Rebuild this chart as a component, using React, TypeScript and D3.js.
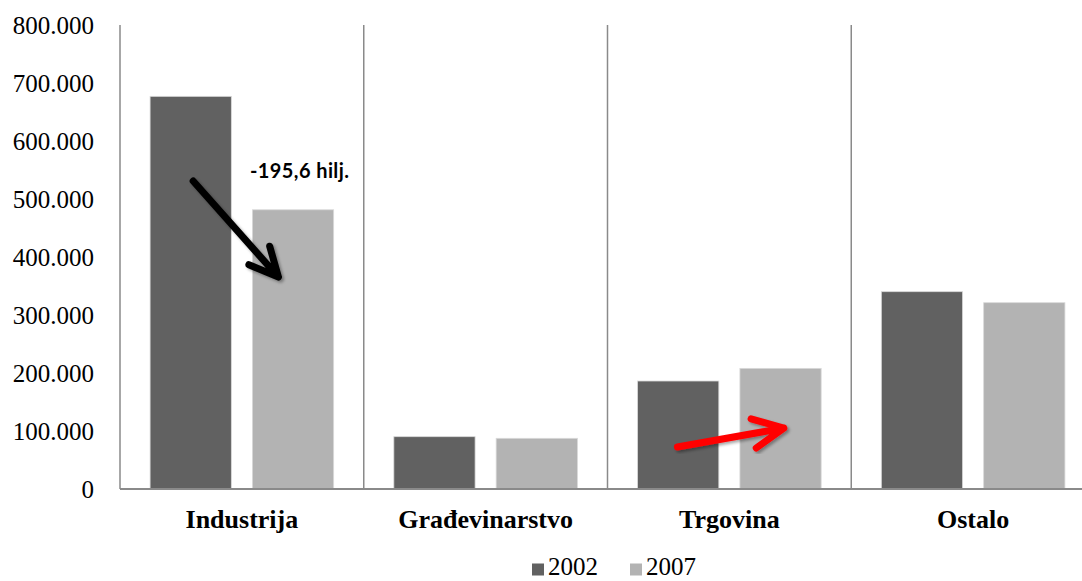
import React from "react";
import * as d3 from "d3";

const categories = ["Industrija", "Građevinarstvo", "Trgovina", "Ostalo"];
const seriesNames = ["2002", "2007"];
const values2002 = [677000, 90200, 186200, 340200];
const values2007 = [481400, 87400, 208000, 321200];
const yTicks = [0, 100000, 200000, 300000, 400000, 500000, 600000, 700000, 800000];
const annotationText = "-195,6 hilj.";

const W = 1082;
const H = 581;
const left = 120;
const right = 1095;
const top = 25;
const bottom = 489;
const colors = ["#616161", "#b3b3b3"];

const fmt = (v: number) => (v === 0 ? "0" : d3.format(",")(v).replace(/,/g, "."));

export default function App() {
  const x = d3.scaleBand<string>().domain(categories).range([left, right]).paddingInner(0).paddingOuter(0);
  const x1 = d3.scaleBand<string>().domain(seriesNames).range([0, x.bandwidth()]).paddingInner(0.206).paddingOuter(0.294);
  const y = d3.scaleLinear().domain([0, 800000]).range([bottom, top]);
  const series = [values2002, values2007];

  const bw = x1.bandwidth();
  const cx0 = (i: number, s: string) => (x(categories[i]) as number) + (x1(s) as number);

  // black arrow (Industrija)
  const bStart: [number, number] = [cx0(0, "2002") + bw * 0.53, y(531000)];
  const bEnd: [number, number] = [cx0(0, "2007") + bw * 0.32, y(365500)];
  // red arrow (Trgovina)
  const rStart: [number, number] = [cx0(2, "2002") + bw * 0.49, y(72400)];
  const rEnd: [number, number] = [cx0(2, "2007") + bw * 0.54, y(105000)];

  const arrowPath = (s: [number, number], e: [number, number], head: number) => {
    const ang = Math.atan2(e[1] - s[1], e[0] - s[0]);
    const a1 = ang + Math.PI - 0.45;
    const a2 = ang + Math.PI + 0.45;
    const p1 = [e[0] + head * Math.cos(a1), e[1] + head * Math.sin(a1)];
    const p2 = [e[0] + head * Math.cos(a2), e[1] + head * Math.sin(a2)];
    return `M${s[0]},${s[1]}L${e[0]},${e[1]}M${p1[0]},${p1[1]}L${e[0]},${e[1]}L${p2[0]},${p2[1]}`;
  };

  return (
    <svg width={W} height={H} style={{ position: "absolute", left: 0, top: 0 }}>
      <defs>
        <filter id="sh" x="-20%" y="-20%" width="140%" height="140%">
          <feDropShadow dx="2" dy="2" stdDeviation="1.5" floodColor="#000" floodOpacity="0.35" />
        </filter>
      </defs>
      <rect width={W} height={H} fill="#fff" />
      {categories.map((c) => (
        <line key={c} x1={x(c) as number} x2={x(c) as number} y1={top} y2={bottom} stroke="#8a8a8a" strokeWidth={1.5} />
      ))}
      {categories.map((c, i) =>
        seriesNames.map((s, j) => (
          <rect
            key={c + s}
            x={(x(c) as number) + (x1(s) as number)}
            y={y(series[j][i])}
            width={bw}
            height={bottom - y(series[j][i])}
            fill={colors[j]}
            stroke="#d9d9d9"
            strokeWidth={0.8}
          />
        ))
      )}
      <line x1={left} x2={W} y1={bottom} y2={bottom} stroke="#8a8a8a" strokeWidth={2} />
      {yTicks.map((t) => (
        <text key={t} x={94} y={y(t)} dy="0.35em" textAnchor="end" fontFamily="'Liberation Serif', serif" fontSize={25} fill="#000">
          {fmt(t)}
        </text>
      ))}
      {categories.map((c) => (
        <text key={c} x={(x(c) as number) + x.bandwidth() / 2} y={528} textAnchor="middle" fontFamily="'Liberation Serif', serif" fontWeight="bold" fontSize={26} fill="#000">
          {c}
        </text>
      ))}
      {seriesNames.map((s, j) => {
        const lx = j === 0 ? 532 : 630;
        return (
          <g key={s}>
            <rect x={lx} y={563.5} width={12} height={12} fill={colors[j]} />
            <text x={lx + 16} y={575} fontFamily="'Liberation Serif', serif" fontSize={25} fill="#000">
              {s}
            </text>
          </g>
        );
      })}
      <text x={250} y={178} fontFamily="Lato, 'Open Sans', sans-serif" fontWeight="bold" fontSize={20} letterSpacing={0.4} fill="#000">
        {annotationText}
      </text>
      <path d={arrowPath(bStart, bEnd, 32)} fill="none" stroke="#000" strokeWidth={7} strokeLinecap="round" strokeLinejoin="round" filter="url(#sh)" />
      <path d={arrowPath(rStart, rEnd, 34)} fill="none" stroke="#ff0000" strokeWidth={7} strokeLinecap="round" strokeLinejoin="round" filter="url(#sh)" />
    </svg>
  );
}
